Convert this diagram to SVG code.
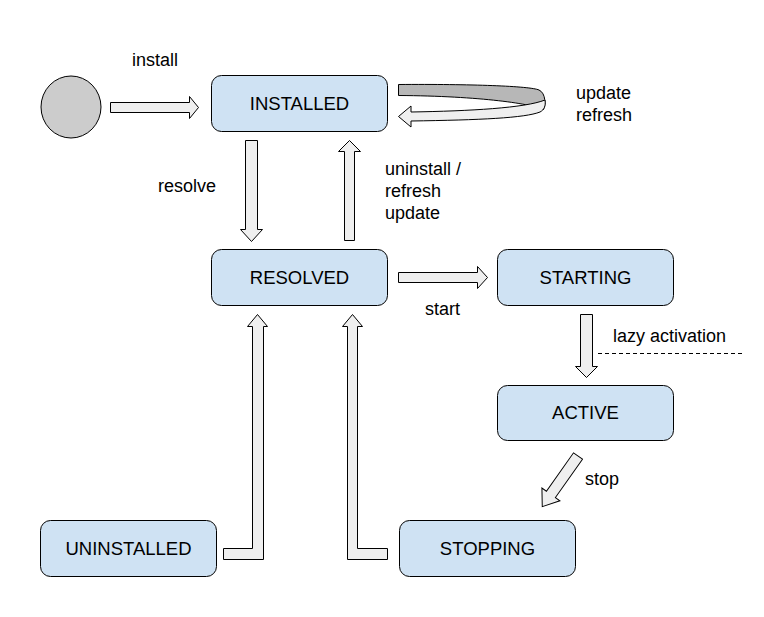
<svg xmlns="http://www.w3.org/2000/svg" width="764" height="617" viewBox="0 0 764 617">
<style>
.node rect{fill:#cfe2f3;stroke:#000;stroke-width:1}
text{font-family:"Liberation Sans",Arial,sans-serif;font-size:18px;fill:#000}
.node text{font-size:18.5px}
.c{text-anchor:middle}
.arr{fill:#efefef;stroke:#000;stroke-width:1;stroke-linejoin:miter}
</style>
<rect width="764" height="617" fill="#fff"/>
<g id="start">
<ellipse cx="71" cy="107" rx="30" ry="31" fill="#cccccc" stroke="#000" stroke-width="1"/>
</g>
<g id="installed" class="node"><rect x="211.5" y="75.5" width="176" height="56" rx="10"/><text class="c" x="299.5" y="110">INSTALLED</text></g>
<g id="resolved" class="node"><rect x="211.5" y="249.5" width="176" height="56" rx="10"/><text class="c" x="299.5" y="284">RESOLVED</text></g>
<g id="starting" class="node"><rect x="497.5" y="249.5" width="176" height="56" rx="10"/><text class="c" x="585.5" y="284">STARTING</text></g>
<g id="active" class="node"><rect x="497.5" y="385.5" width="176" height="55" rx="10"/><text class="c" x="585.5" y="419">ACTIVE</text></g>
<g id="uninstalled" class="node"><rect x="40.5" y="520.5" width="176" height="56" rx="10"/><text class="c" x="128.5" y="555">UNINSTALLED</text></g>
<g id="stopping" class="node"><rect x="399.5" y="520.5" width="176" height="56" rx="10"/><text class="c" x="487.5" y="555">STOPPING</text></g>
<g id="connectors">
<polygon class="arr" points="110.5,102.5 189.5,102.5 189.5,96.5 198.5,107.5 189.5,118.5 189.5,112.5 110.5,112.5"/>
<polygon class="arr" points="245.5,140.5 257.5,140.5 257.5,229.5 262.5,229.5 251.5,241.5 240.5,229.5 245.5,229.5"/>
<polygon class="arr" points="344.5,240.5 354.5,240.5 354.5,151.5 360.5,151.5 349.5,140.5 338.5,151.5 344.5,151.5"/>
<polygon class="arr" points="398.5,272.5 477.5,272.5 477.5,266.5 487.5,277.5 477.5,288.5 477.5,282.5 398.5,282.5"/>
<polygon class="arr" points="580.5,314.5 592.5,314.5 592.5,366.5 597.5,366.5 586.5,377.5 575.5,366.5 580.5,366.5"/>
<line x1="598" y1="353.5" x2="742" y2="353.5" stroke="#000" stroke-width="1" stroke-dasharray="4,3"/>
<polygon class="arr" points="223.5,559.5 263.5,559.5 263.5,326.5 267.5,326.5 257.5,314.5 247.5,326.5 252.5,326.5 252.5,548.5 223.5,548.5"/>
<polygon class="arr" points="387.5,559.5 347.5,559.5 347.5,326.5 342.5,326.5 352.5,314.5 362.5,326.5 357.5,326.5 357.5,548.5 387.5,548.5"/>
<polygon class="arr" transform="translate(578,456) rotate(125.2)" points="0,-5.5 47,-5.5 47,-11 62,0 47,11 47,5.5 0,5.5"/>
<path d="M398.5,84.5 C470,84 530,86 539,90 C546,93 546,106 543,110 C535,104 480,96 398.5,95.5 Z" fill="#b7b7b7" stroke="#000" stroke-width="1"/>
<path class="arr" d="M411,112 C470,111 525,108 545,100 C546,106 544,110 540,112 C525,118 480,120 411,121 L411,127 L398.5,116.5 L411,106 Z"/>
</g>
<g id="labels">
<text x="132" y="66">install</text>
<text x="576" y="99">update</text>
<text x="576" y="121">refresh</text>
<text x="158" y="192">resolve</text>
<text x="385" y="175">uninstall /</text>
<text x="385" y="197">refresh</text>
<text x="385" y="219">update</text>
<text x="425" y="315">start</text>
<text x="613" y="342">lazy activation</text>
<text x="585" y="485">stop</text>
</g>
</svg>
